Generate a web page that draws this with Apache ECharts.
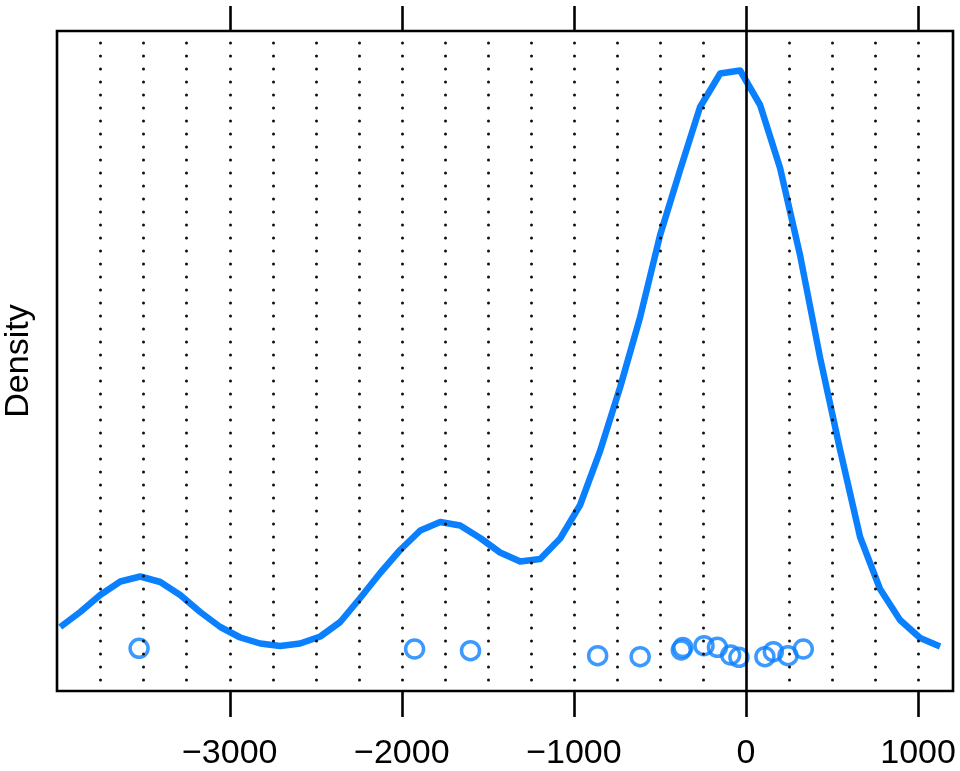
<!DOCTYPE html>
<html>
<head>
<meta charset="utf-8">
<script src="https://cdn.jsdelivr.net/npm/echarts@6/dist/echarts.min.js"></script>
<style>
html,body{margin:0;padding:0;background:#fff;}
#chart{width:960px;height:771px;}
</style>
</head>
<body>
<div id="chart"></div>
<script>
// Density curve (x values and density in units of 1e-4)
var densityX = [-3985, -3869, -3753, -3636, -3520, -3404, -3288, -3172, -3055, -2939,
  -2823, -2707, -2591, -2474, -2358, -2242, -2126, -2010, -1893, -1777,
  -1661, -1545, -1429, -1312, -1196, -1080, -964, -848, -731, -615,
  -499, -383, -267, -150, -34, 82, 198, 314, 431, 547,
  663, 779, 895, 1012, 1128];
var densityY = [0.24, 0.39, 0.56, 0.695, 0.745, 0.69, 0.56, 0.39, 0.24, 0.135,
  0.075, 0.05, 0.075, 0.145, 0.29, 0.53, 0.78, 1.01, 1.205, 1.29,
  1.255, 1.13, 0.985, 0.895, 0.92, 1.125, 1.46, 2.00, 2.64, 3.34,
  4.16, 4.81, 5.44, 5.775, 5.805, 5.46, 4.83, 3.96, 2.93, 2.01,
  1.14, 0.62, 0.31, 0.13, 0.045];
// Observations (jittered around 0)
var pointsX = [-3527, -1926, -1601, -862, -615, -376, -367, -244, -166, -89, -41, 110, 159, 244, 333];
var pointsY = [0.027, 0.02, 0.003, -0.047, -0.057, 0.01, 0.035, 0.053, 0.037, -0.04, -0.063, -0.057, -0.007, -0.047, 0.02];
// Axis ticks and reference lines
var tickValues = [-3000, -2000, -1000, 0, 1000];
var dottedValues = [-3750, -3500, -3250, -3000, -2750, -2500, -2250, -2000, -1750, -1500,
  -1250, -1000, -750, -500, -250, 250, 500, 750, 1000];
var zeroLine = [0];

var xMin = -4004, xMax = 1203;
var yMin = -0.40, yMax = 6.20;
var blue = '#0a80ff';
var font = 'Liberation Sans, Arial, Helvetica, sans-serif';

function fmt(v) { return v < 0 ? '\u2212' + Math.abs(v) : String(v); }

var lineData = densityX.map(function (x, i) { return [x, densityY[i]]; });
var pointData = pointsX.map(function (x, i) { return [x, pointsY[i]]; });

var markData = dottedValues.map(function (v) {
  return { xAxis: v, lineStyle: { type: [0.1, 12.9], dashOffset: 2, cap: 'round', width: 3, color: '#111' } };
}).concat(zeroLine.map(function (v) {
  return { xAxis: v, lineStyle: { type: 'solid', width: 2.6, color: '#000' } };
}));

var chart = echarts.init(document.getElementById('chart'), null, { renderer: 'canvas' });
chart.setOption({
  animation: false,
  backgroundColor: '#fff',
  grid: { left: 57, right: 7, top: 31, bottom: 80, containLabel: false, outerBoundsMode: 'none',
    show: true, borderColor: '#000', borderWidth: 2.6, backgroundColor: 'transparent', z: 10 },
  xAxis: [{
    type: 'value', position: 'bottom', min: xMin, max: xMax,
    axisLine: { show: false, onZero: false },
    splitLine: { show: false },
    axisTick: { show: true, inside: false, customValues: tickValues, length: 26, lineStyle: { color: '#000', width: 2.6 } },
    axisLabel: { show: true, customValues: tickValues, formatter: fmt, margin: 46, fontSize: 34, color: '#000', fontFamily: font }
  }, {
    type: 'value', position: 'top', min: xMin, max: xMax,
    axisLine: { show: false, onZero: false },
    splitLine: { show: false },
    axisTick: { show: true, inside: false, customValues: tickValues, length: 25, lineStyle: { color: '#000', width: 2.6 } },
    axisLabel: { show: false }
  }],
  yAxis: {
    type: 'value', min: yMin, max: yMax,
    axisLine: { show: false }, axisTick: { show: false }, axisLabel: { show: false }, splitLine: { show: false },
    name: 'Density', nameLocation: 'middle', nameRotate: 90, nameGap: 21,
    nameTextStyle: { fontSize: 34, color: '#000', fontFamily: font }
  },
  series: [{
    type: 'line', data: [], z: 1, silent: true,
    markLine: { silent: true, symbol: ['none', 'none'], label: { show: false }, animation: false, data: markData }
  }, {
    type: 'line', data: lineData, z: 3, showSymbol: false, smooth: false, silent: true,
    lineStyle: { color: blue, width: 6.5, join: 'round', cap: 'butt' }
  }, {
    type: 'scatter', data: pointData, z: 4, symbol: 'circle', symbolSize: 18, silent: true,
    itemStyle: { color: 'rgba(0,0,0,0)', borderColor: blue, borderWidth: 3.5 }
  }]
});
</script>
</body>
</html>
